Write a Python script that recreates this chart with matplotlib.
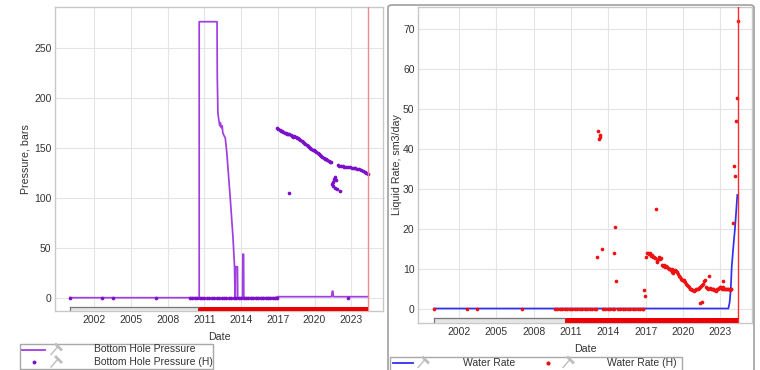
import matplotlib
matplotlib.use("Agg")
import matplotlib.pyplot as plt
from matplotlib.lines import Line2D
from matplotlib.patches import Rectangle, FancyBboxPatch

plt.rcParams['font.family'] = ['Liberation Sans', 'DejaVu Sans']

# ---------------- data ----------------
tick_years = [2002, 2005, 2008, 2011, 2014, 2017, 2020, 2023]
tick_labels = ["2002", "2005", "2008", "2011", "2014", "2017", "2020", "2023"]
current_date = 2024.4

period_starts = [2000.0, 2010.5]
period_ends = [2010.5, 2024.4]
period_colors = ["#e4e4e4", "#ee0000"]

# Bottom Hole Pressure (line)
bhp_t = [2000.0, 2010.57, 2010.57, 2012.03, 2012.05, 2012.08, 2012.1, 2012.15, 2012.2,
         2012.25, 2012.3, 2012.38, 2012.45, 2012.5, 2012.6, 2012.7, 2012.83, 2013.1,
         2013.33, 2013.46, 2013.5, 2013.53, 2013.55, 2013.7, 2013.72, 2014.12, 2014.14,
         2014.2, 2014.22, 2016.9, 2016.95, 2021.4, 2021.45, 2021.5, 2021.55, 2024.4]
bhp_v = [0, 0, 276, 276, 220, 200, 185, 180, 176,
         172, 175, 170, 172, 165, 162, 160, 145, 101,
         61, 31, 0, 0, 31, 31, 0, 0, 43.5,
         43.5, 0, 0, 1, 1, 6.5, 6.5, 1, 1]

# Bottom Hole Pressure (H) (points)
bhph_t = [2000.0, 2002.65, 2003.5, 2007.0,
          2009.8, 2010.0, 2010.2, 2010.4, 2010.6, 2010.8, 2011.0, 2011.2, 2011.4, 2011.6,
          2011.8, 2012.0, 2012.2, 2012.4, 2012.6, 2012.8, 2013.0, 2013.2, 2013.4, 2013.6,
          2013.8, 2014.0, 2014.2, 2014.4, 2014.6, 2014.8, 2015.0, 2015.2, 2015.4, 2015.6,
          2015.8, 2016.0, 2016.2, 2016.4, 2016.6, 2016.8, 2016.9,
          2016.95, 2017.05, 2017.15, 2017.25, 2017.35, 2017.45, 2017.55, 2017.65, 2017.75,
          2017.85, 2017.95, 2018.05, 2018.15, 2018.25, 2018.35, 2018.45, 2018.55, 2018.65,
          2018.75, 2018.85, 2018.95, 2019.05, 2019.15, 2019.25, 2019.35, 2019.45, 2019.55,
          2019.65, 2019.75, 2019.85, 2019.95, 2020.05, 2020.15, 2020.25, 2020.35, 2020.45,
          2020.55, 2020.65, 2020.75, 2020.85, 2020.95, 2021.05, 2021.15, 2021.25, 2021.35,
          2017.9,
          2021.45, 2021.5, 2021.62, 2021.7, 2021.78, 2021.55, 2021.68, 2021.85, 2022.1,
          2021.9, 2022.0, 2022.15, 2022.3, 2022.45, 2022.6, 2022.75, 2022.9, 2023.05,
          2023.2, 2023.35, 2023.5, 2023.65, 2023.8, 2023.95, 2024.1, 2024.25, 2024.4,
          2022.75]
bhph_v = [0, 0, 0, 0,
          0, 0, 0, 0, 0, 0, 0, 0, 0, 0,
          0, 0, 0, 0, 0, 0, 0, 0, 0, 0,
          0, 0, 0, 0, 0, 0, 0, 0, 0, 0,
          0, 0, 0, 0, 0, 0, 0,
          169.5, 168.5, 168, 167, 166.5, 166, 165, 164.5, 164,
          163.5, 164, 163, 162, 161, 161.5, 161, 160, 159.5,
          158.5, 158, 157, 156, 155, 154, 153, 152, 151,
          150, 149, 148, 147.5, 146.5, 145.5, 144.5, 143.5, 142.5,
          141.5, 141, 140, 139, 138.5, 137.5, 137, 136, 135.5,
          105,
          113.5, 116, 119, 120.5, 118, 111.5, 110, 108.5, 106.5,
          132.5, 132, 132, 131.5, 131, 131, 130.5, 130.5, 130,
          130, 129.5, 129, 128.5, 128, 127, 126, 125, 124,
          0]

# Water Rate (line)
wr_t = [2000.0, 2023.65, 2023.75, 2023.84, 2023.92, 2024.05, 2024.19, 2024.27, 2024.37]
wr_v = [0, 0, 1.5, 4.6, 10.4, 15.4, 20.4, 23.9, 28.4]

# Water Rate (H) (points)
wrh_t = [2000.0, 2002.6, 2003.47, 2007.04,
         2009.7, 2009.9, 2010.1, 2010.3, 2010.5, 2010.7, 2010.9, 2011.1, 2011.3, 2011.5,
         2011.7, 2011.9, 2012.1, 2012.3, 2012.5, 2012.7, 2012.9, 2013.0,
         2013.55, 2013.75, 2013.95, 2014.15, 2014.35, 2014.45,
         2014.75, 2014.95, 2015.15, 2015.35, 2015.55, 2015.75, 2015.95, 2016.15, 2016.35,
         2016.55, 2016.75, 2016.82,
         2013.07, 2013.47, 2014.54, 2014.46, 2014.62, 2013.13, 2013.37, 2013.26, 2013.3,
         2016.9, 2016.98, 2017.8, 2021.4, 2021.5,
         2017.05, 2017.12, 2017.2, 2017.28, 2017.35, 2017.42, 2017.5, 2017.58, 2017.65,
         2017.72, 2017.88, 2017.95, 2018.02, 2018.1, 2018.18, 2018.25, 2018.33,
         2018.4, 2018.48, 2018.55, 2018.62, 2018.7, 2018.78, 2018.85, 2018.92, 2019.0,
         2019.08, 2019.15, 2019.22, 2019.3, 2019.38, 2019.45, 2019.52, 2019.6, 2019.68,
         2019.75, 2019.82, 2019.9, 2019.98, 2020.05, 2020.12, 2020.2, 2020.28, 2020.35,
         2020.42, 2020.5, 2020.58, 2020.65, 2020.72, 2020.8, 2020.88, 2020.95, 2021.02,
         2021.1, 2021.18, 2021.25, 2021.32, 2021.4, 2021.48, 2021.55, 2021.62, 2021.7,
         2021.78, 2021.85, 2021.92, 2022.0, 2022.1, 2022.15, 2022.22, 2022.3, 2022.38,
         2022.45, 2022.52, 2022.6, 2022.68, 2022.75, 2022.82, 2022.9, 2022.98, 2023.05,
         2023.12, 2023.2, 2023.25, 2023.32, 2023.4, 2023.48, 2023.55, 2023.62, 2023.7,
         2023.78, 2023.85, 2023.9,
         2024.0, 2024.1, 2024.16, 2024.27, 2024.32, 2024.45]
wrh_v = [0, 0, 0, 0,
         0, 0, 0, 0, 0, 0, 0, 0, 0, 0,
         0, 0, 0, 0, 0, 0, 0, 0,
         0, 0, 0, 0, 0, 0,
         0, 0, 0, 0, 0, 0, 0, 0, 0,
         0, 0, 0,
         13.0, 14.9, 20.5, 14.0, 7.0, 44.4, 43.4, 42.3, 42.8,
         4.6, 3.1, 25.0, 1.3, 1.6,
         13.0, 13.8, 14.0, 13.6, 13.9, 13.2, 13.5, 12.8, 13.0,
         12.6, 12.0, 11.6, 12.3, 12.8, 12.5, 12.6, 11.0,
         10.6, 10.8, 10.5, 10.6, 10.3, 10.1, 10.0, 9.8, 9.6,
         9.8, 9.2, 9.0, 9.4, 9.7, 9.5, 9.2, 8.6, 8.2,
         7.8, 7.4, 7.2, 7.1, 7.2, 7.0, 6.6, 6.2, 5.8,
         5.6, 5.3, 5.0, 4.8, 4.6, 4.6, 4.5, 4.7, 4.8,
         4.9, 5.0, 5.1, 5.2, 5.3, 5.6, 5.9, 6.2, 6.8,
         7.1, 5.4, 5.2, 5.0, 8.1, 5.1, 4.9, 4.9, 5.0,
         4.8, 4.7, 4.6, 4.5, 4.8, 5.0, 5.2, 5.4, 5.3,
         5.0, 5.4, 6.8, 5.0, 4.8, 4.9, 4.8, 4.8, 4.8,
         4.7, 4.8, 4.8,
         21.4, 35.6, 33.2, 47.0, 52.6, 71.8]

left_yticks = [0, 50, 100, 150, 200, 250]
right_yticks = [0, 10, 20, 30, 40, 50, 60, 70]

# ---------------- figure ----------------
W, H = 760, 370
fig = plt.figure(figsize=(7.6, 3.7), dpi=100)


def fx(x):
    return x / W


def fy(y):
    return 1 - y / H


def box(x0, y0, x1, y1):
    return [fx(x0), fy(y1), fx(x1) - fx(x0), fy(y0) - fy(y1)]


purple_line = "#a13ee0"
purple_dot = "#7a10c8"
blue = "#3030ee"
red = "#ee1111"
spine_c = "#c8c8c8"
grid_c = "#e4e4e4"
text_c = "#333333"
FS = 7.5

# right panel border
fig.patches.append(FancyBboxPatch((fx(388), fy(372)), fx(754) - fx(388), fy(5) - fy(372),
                                  boxstyle="round,pad=0,rounding_size=0.006",
                                  transform=fig.transFigure, fill=False,
                                  edgecolor="#a0a0a0", linewidth=1.2))

axL = fig.add_axes(box(55, 7, 383, 311))
axR = fig.add_axes(box(418, 7, 752, 322.7))


def style(ax, xlim, ylim, yticks, ylabel, ylab_x):
    ax.set_xlim(*xlim)
    ax.set_ylim(*ylim)
    ax.set_xticks(tick_years)
    ax.set_xticklabels(tick_labels)
    ax.set_yticks(yticks)
    ax.tick_params(length=0, labelsize=FS, colors=text_c, pad=3)
    ax.tick_params(axis='y', pad=2.5)
    ax.grid(True, color=grid_c, linewidth=0.8)
    ax.set_axisbelow(True)
    for s in ax.spines.values():
        s.set_color(spine_c)
        s.set_linewidth(1.0)
    ax.set_xlabel("Date", fontsize=7.7, color=text_c, labelpad=5)
    ax.set_ylabel(ylabel, fontsize=7.7, color=text_c)
    ax.yaxis.set_label_coords(ylab_x, 0.5)
    # period bars at the bottom
    tr = ax.get_xaxis_transform()
    for s0, s1, c in zip(period_starts, period_ends, period_colors):
        ax.add_patch(Rectangle((s0, 0), s1 - s0, 0.014, transform=tr, facecolor=c,
                               edgecolor='none', zorder=4, clip_on=False))
    ax.plot([period_starts[0], period_ends[0]], [0.014, 0.014], transform=tr,
            color="#777777", lw=0.9, zorder=5)
    ax.plot([period_starts[0], period_starts[0]], [0.0, 0.014], transform=tr,
            color="#777777", lw=0.9, zorder=5)


style(axL, (1998.78, 2025.6), (-13.3, 290.7), left_yticks, "Pressure, bars",
      (30 - 55) / 328)
style(axR, (1998.70, 2025.55), (-3.55, 75.4), right_yticks, "Liquid Rate, sm3/day",
      (402 - 418) / 334)

axL.plot(bhp_t, bhp_v, color=purple_line, lw=1.25, zorder=3)
axL.scatter(bhph_t, bhph_v, s=7, color=purple_dot, linewidths=0, zorder=3)
axL.axvline(current_date, color="#f08a8a", lw=1.0, zorder=3)

axR.plot(wr_t, wr_v, color=blue, lw=1.25, zorder=3)
axR.scatter(wrh_t, wrh_v, s=7, color=red, linewidths=0, zorder=3)
axR.axvline(current_date, color="#ff2a2a", lw=1.0, zorder=3)


# ---------------- legends (drawn manually) ----------------
def pin(x, y):
    fig.lines.append(Line2D([fx(x - 4), fx(x + 3)], [fy(y + 5), fy(y - 3)],
                            transform=fig.transFigure, color="#bdbdbd", lw=1.0))
    fig.lines.append(Line2D([fx(x + 1), fx(x + 6)], [fy(y - 5), fy(y)],
                            transform=fig.transFigure, color="#bdbdbd", lw=2.0))


def legend_box(x0, y0, x1, y1):
    fig.patches.append(Rectangle((fx(x0), fy(y1)), fx(x1) - fx(x0), fy(y0) - fy(y1),
                                 transform=fig.transFigure, fill=False,
                                 edgecolor="#a8a8a8", linewidth=1.0))


legend_box(20, 344, 213, 368.5)
fig.lines.append(Line2D([fx(22), fx(45)], [fy(349.5), fy(349.5)], transform=fig.transFigure,
                        color=purple_line, lw=1.3))
pin(55, 349.5)
fig.text(fx(94), fy(349.5), "Bottom Hole Pressure", fontsize=FS, color=text_c,
         ha='left', va='center')
fig.lines.append(Line2D([fx(34)], [fy(362)], transform=fig.transFigure, marker='o',
                        markersize=2.8, color=purple_dot, markeredgewidth=0))
pin(55, 362)
fig.text(fx(94), fy(362), "Bottom Hole Pressure (H)", fontsize=FS, color=text_c,
         ha='left', va='center')

legend_box(390, 357, 682, 372)
fig.lines.append(Line2D([fx(393), fx(413)], [fy(362.5), fy(362.5)], transform=fig.transFigure,
                        color=blue, lw=1.3))
pin(422, 362.5)
fig.text(fx(463), fy(362.5), "Water Rate", fontsize=FS, color=text_c, ha='left', va='center')
fig.lines.append(Line2D([fx(548)], [fy(362.5)], transform=fig.transFigure, marker='o',
                        markersize=3.0, color=red, markeredgewidth=0))
pin(567, 362.5)
fig.text(fx(607), fy(362.5), "Water Rate (H)", fontsize=FS, color=text_c, ha='left', va='center')

fig.savefig("out.png", dpi=100)
